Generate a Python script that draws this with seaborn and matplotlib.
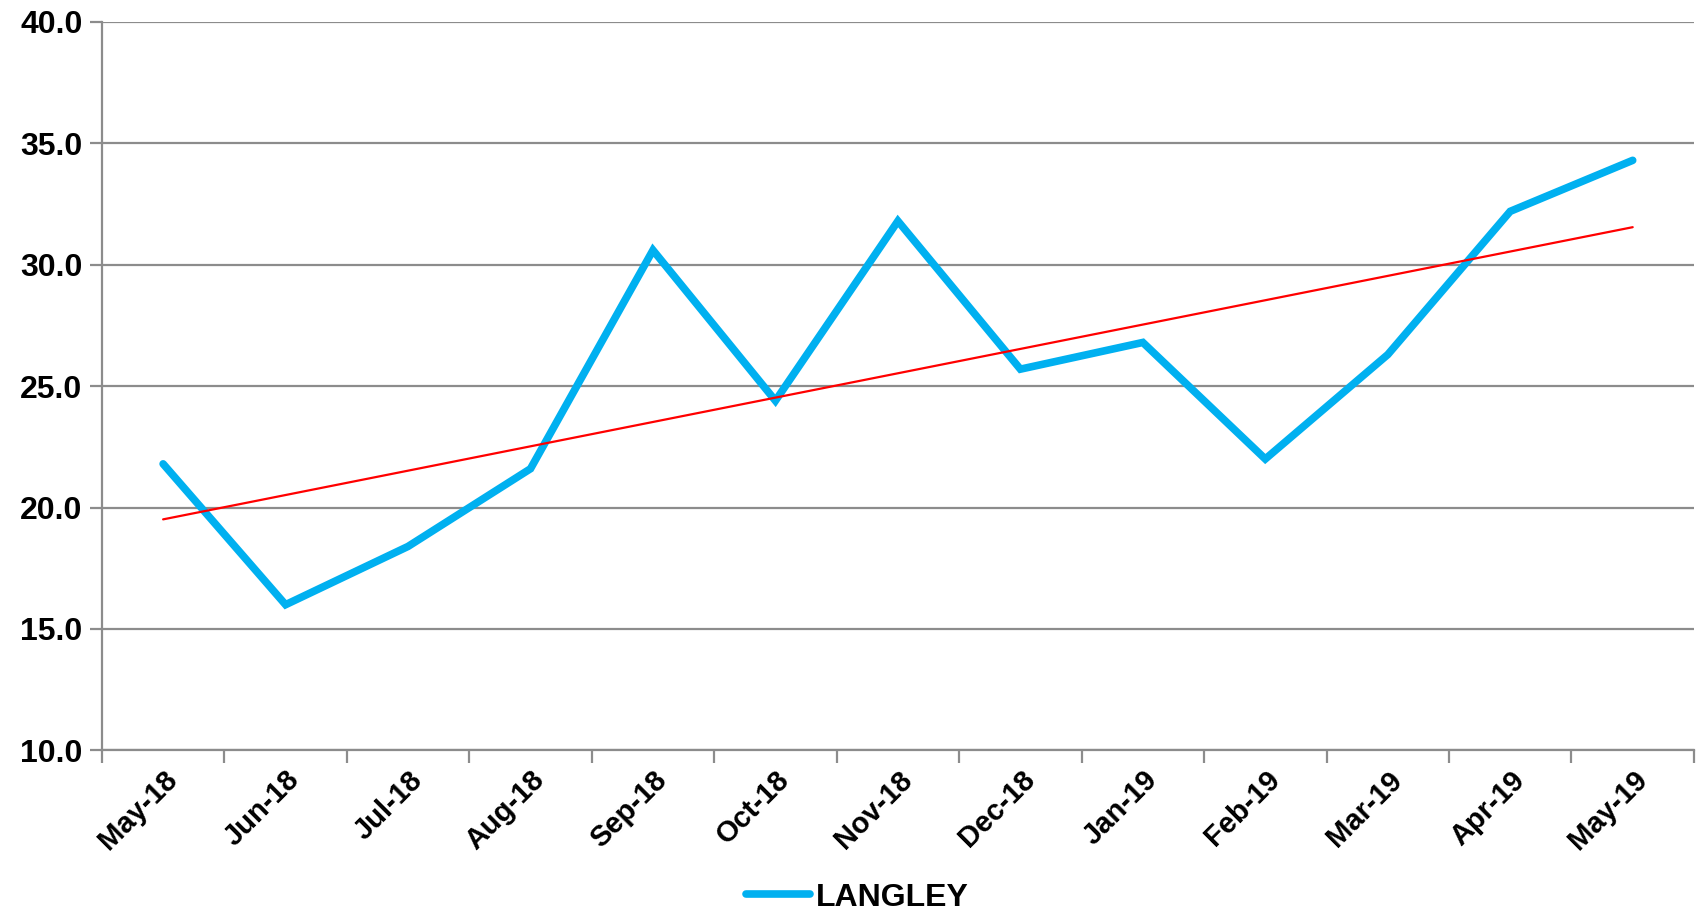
import matplotlib
matplotlib.use("Agg")
import matplotlib.pyplot as plt
import seaborn as sns
import pandas as pd
import numpy as np
from matplotlib.ticker import FixedLocator

months = ["May-18", "Jun-18", "Jul-18", "Aug-18", "Sep-18", "Oct-18", "Nov-18",
          "Dec-18", "Jan-19", "Feb-19", "Mar-19", "Apr-19", "May-19"]
langley = [21.8, 16.0, 18.4, 21.6, 30.6, 24.4, 31.8, 25.7, 26.8, 22.0, 26.3, 32.2, 34.3]
y_ticks = [10.0, 15.0, 20.0, 25.0, 30.0, 35.0, 40.0]
series_name = "LANGLEY"

sns.set_theme(style="white")
plt.rcParams['font.family'] = ['Liberation Sans', 'DejaVu Sans']
plt.rcParams['font.weight'] = 'bold'

df = pd.DataFrame({"idx": np.arange(len(months)), "month": months, "value": langley})

fig = plt.figure(figsize=(16.98, 9.14), dpi=100)
ax = fig.add_axes([0.060, 0.179, 0.9376, 0.797])

grid_c = "#8c8c8c"
for yv in y_ticks:
    ax.axhline(yv, color=grid_c, lw=1.6, zorder=0)

sns.lineplot(data=df, x="idx", y="value", ax=ax, color="#00B0F0", lw=5.5,
             label=series_name, solid_capstyle="round", solid_joinstyle="miter", zorder=3)
sns.regplot(data=df, x="idx", y="value", ax=ax, scatter=False, ci=None,
            color="red", line_kws={"lw": 1.6, "zorder": 4}, label="_trend")

ax.set_xlim(-0.5, len(months) - 0.5)
ax.set_ylim(10, 40)
ax.set_yticks(y_ticks)
ax.set_yticklabels([f"{v:.1f}" for v in y_ticks], fontsize=23, fontweight="bold", color="black")

ax.set_xticks(df["idx"])
ax.set_xticklabels(months, rotation=45, ha="right", rotation_mode="anchor",
                   fontsize=21, fontweight="bold", color="black")
ax.tick_params(axis="x", which="major", length=0, pad=11)
ax.xaxis.set_minor_locator(FixedLocator(np.arange(-0.5, len(months), 1.0)))
ax.tick_params(axis="x", which="minor", length=9, width=1.6, color=grid_c, direction="out", bottom=True)
ax.tick_params(axis="y", which="major", length=9, width=1.6, color=grid_c, direction="out", left=True, pad=5)

for s in ["top", "right"]:
    ax.spines[s].set_visible(False)
for s in ["left", "bottom"]:
    ax.spines[s].set_color(grid_c)
    ax.spines[s].set_linewidth(1.6)

ax.set_xlabel("")
ax.set_ylabel("")

h, l = ax.get_legend_handles_labels()
keep = [(hh, ll) for hh, ll in zip(h, l) if ll == series_name]
leg = ax.legend([k[0] for k in keep], [k[1] for k in keep], loc="lower center",
                bbox_to_anchor=(0.505, -0.03), bbox_transform=fig.transFigure, frameon=False,
                prop={"size": 23, "weight": "bold"}, handlelength=2.0, handletextpad=0.2)
for t in leg.get_texts():
    t.set_color("black")

fig.savefig("out.png", dpi=100)
